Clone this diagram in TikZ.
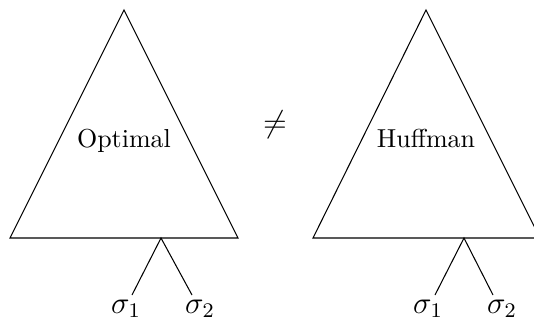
\documentclass[tikz,border=0pt]{standalone}
\begin{document}
\begin{tikzpicture}[x=0.385pt,y=-0.385pt,line width=0.4pt,
  lbl/.style={inner sep=0pt,anchor=base,font=\fontsize{12}{14}\selectfont},
  ttl/.style={inner sep=0pt,anchor=base}]
\useasboundingbox (0,0) rectangle (534,320);
\clip (0,0) rectangle (534,320);
% left tree
\coordinate (la) at (124,10);
\coordinate (lb1) at (10,238);
\coordinate (lb2) at (238,238);
\coordinate (lr) at (161,238);
\coordinate (ll1) at (132,295);
\coordinate (ll2) at (192,295);
\draw (la) -- (lb1) -- (lb2) -- cycle;
\draw (ll1) -- (lr) -- (ll2);
\node[ttl] (opt) at (124,147) {Optimal};
\node[lbl] (ls1) at (126,313) {$\sigma_1$};
\node[lbl] (ls2) at (200,313) {$\sigma_2$};
% right tree
\coordinate (ra) at (426,10);
\coordinate (rb1) at (313,238);
\coordinate (rb2) at (540,238);
\coordinate (rr) at (464,238);
\coordinate (rl1) at (435,295);
\coordinate (rl2) at (493,295);
\draw (ra) -- (rb1) -- (rb2) -- cycle;
\draw (rl1) -- (rr) -- (rl2);
\node[ttl] (huf) at (426,147) {Huffman};
\node[lbl] (rs1) at (428,313) {$\sigma_1$};
\node[lbl] (rs2) at (502,313) {$\sigma_2$};
% not equal
\node[inner sep=0pt,font=\fontsize{13}{15}\selectfont] (ne) at (275,125) {$\neq$};
\end{tikzpicture}
\end{document}
